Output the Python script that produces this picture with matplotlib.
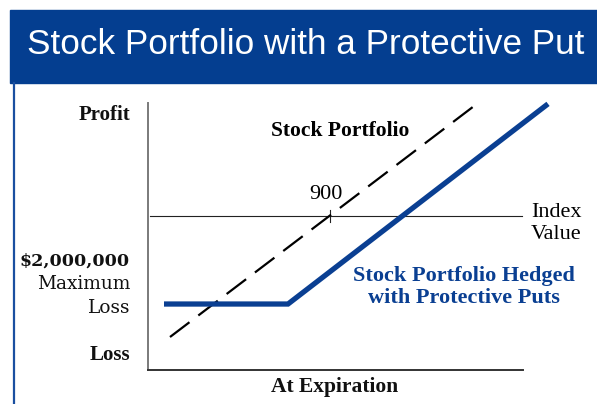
import matplotlib.pyplot as plt
from matplotlib.patches import Rectangle
from matplotlib.lines import Line2D

# Payoff lines (index value, profit in $ millions)
stock_index = [820, 972]
stock_profit = [-2.75, 2.5]
hedged_index = [817, 879, 1009]
hedged_profit = [-2.0, -2.0, 2.55]
index_line_x = [810, 996]
strike = 900

W, H = 597, 404
BLUE = '#0a3f92'
SERIF = 'Liberation Serif'


def fx(px):
    return px / W


def fy(py):
    return 1 - py / H


fig = plt.figure(figsize=(W / 100, H / 100), dpi=100)

# header bar and left rule
fig.patches.append(Rectangle((fx(9.5), fy(82.5)), 1 - fx(9.5), fy(9.5) - fy(82.5),
                             transform=fig.transFigure, color='#043e90', zorder=0))
fig.lines.append(Line2D([fx(13.5), fx(13.5)], [0, fy(82.5)], transform=fig.transFigure,
                        color='#1a4fa0', lw=1.6))
fig.text(fx(27), fy(45), 'Stock Portfolio with a Protective Put', color='white',
         family='Liberation Sans', fontsize=25.3, ha='left', va='center')

ax = fig.add_axes([fx(148), fy(370), fx(523) - fx(148), fy(103) - fy(370)])
ax.set_xlim(809, 996.5)
ax.set_ylim(-3.5, 2.57)
for s in ['top', 'right']:
    ax.spines[s].set_visible(False)
ax.spines['left'].set_color('#7a7a7a')
ax.spines['left'].set_linewidth(1.4)
ax.spines['bottom'].set_color('#333333')
ax.spines['bottom'].set_linewidth(1.4)
ax.set_xticks([])
ax.set_yticks([])

# index value axis with strike tick
ax.plot(index_line_x, [0, 0], color='#222222', lw=0.8, clip_on=False)
ax.plot([strike, strike], [-0.14, 0.14], color='#222222', lw=0.8, clip_on=False)

ax.plot(stock_index, stock_profit, color='black', lw=1.6, dashes=(11, 5), clip_on=False)
ax.plot(hedged_index, hedged_profit, color=BLUE, lw=3.8, clip_on=False,
        solid_capstyle='butt', solid_joinstyle='miter')

ax.text(905, 1.93, 'Stock Portfolio', family=SERIF, fontweight='bold', fontsize=15.5,
        ha='center', va='center')
ax.text(897.8, 0.48, '900', family=SERIF, fontsize=16, ha='center', va='center')
ax.text(1000.5, 0.09, 'Index', family=SERIF, fontsize=16, ha='left', va='center', clip_on=False)
ax.text(1000.5, -0.43, 'Value', family=SERIF, fontsize=16, ha='left', va='center', clip_on=False)
ax.text(967, -1.36, 'Stock Portfolio Hedged', family=SERIF, fontweight='bold', fontsize=16,
        color=BLUE, ha='center', va='center')
ax.text(967, -1.86, 'with Protective Puts', family=SERIF, fontweight='bold', fontsize=16,
        color=BLUE, ha='center', va='center')

# left side labels
fig.text(fx(130), fy(115), 'Profit', family=SERIF, fontweight='bold', fontsize=15,
         ha='right', va='center', color='#111111')
fig.text(fx(130), fy(355), 'Loss', family=SERIF, fontweight='bold', fontsize=15,
         ha='right', va='center', color='#111111')
fig.text(fx(130), fy(261), '$2,000,000', family='DejaVu Serif', fontweight='bold', fontsize=12.6,
         ha='right', va='center', color='#111111')
fig.text(fx(130), fy(284), 'Maximum', family='DejaVu Serif', fontsize=13.3,
         ha='right', va='center', color='#111111')
fig.text(fx(130), fy(308), 'Loss', family='DejaVu Serif', fontsize=13.3,
         ha='right', va='center', color='#111111')

fig.text(fx(335), fy(387), 'At Expiration', family=SERIF, fontweight='bold', fontsize=15.5,
         ha='center', va='center', color='#111111')

fig.savefig('out.png', dpi=100)
